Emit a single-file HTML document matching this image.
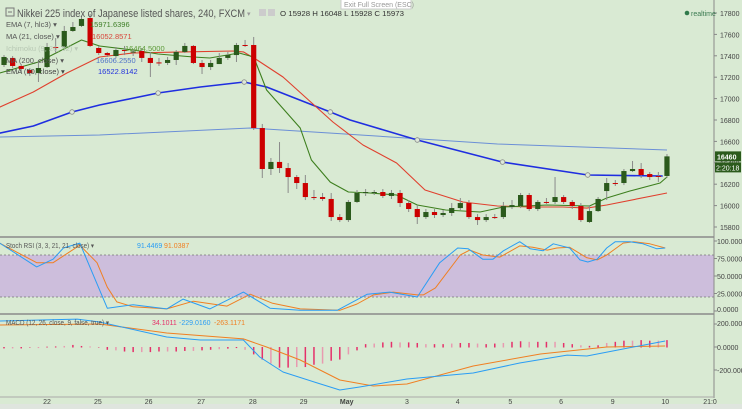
<!DOCTYPE html>
<html><head><meta charset="utf-8"><style>
html,body{margin:0;padding:0;background:#d9ead3;}
svg{display:block;font-family:"Liberation Sans",sans-serif;}
</style></head><body>
<svg id="chart" width="742" height="409" viewBox="0 0 742 409" xmlns="http://www.w3.org/2000/svg">
<rect x="0" y="0" width="742" height="409" fill="#d9ead3"/>
<rect x="0" y="404" width="742" height="5" fill="#dfe5de"/>
<g id="stoch-band"></g>
<g id="grid">
<line x1="0" y1="237" x2="714" y2="237" stroke="#8a8a8a" stroke-width="1.5"/>
<line x1="0" y1="314" x2="714" y2="314" stroke="#8a8a8a" stroke-width="1.5"/>
<line x1="714" y1="0" x2="714" y2="398" stroke="#8a8a8a" stroke-width="1"/>
<line x1="0" y1="397" x2="714" y2="397" stroke="#aaa" stroke-width="1"/>
</g>
<g id="lines"></g>
<g id="candles"></g>
<g id="axes"></g>
<g fill="#555">
<rect x="6" y="8" width="8" height="8" fill="none" stroke="#777"/>
<line x1="8" y1="12" x2="12" y2="12" stroke="#777"/>
<text x="17" y="17" font-size="11" textLength="228" lengthAdjust="spacingAndGlyphs">Nikkei 225 index of Japanese listed shares, 240, FXCM</text>
<text x="247" y="16" font-size="7" fill="#999">▾</text>
<rect x="259" y="9" width="7" height="7" fill="#ccc"/>
<rect x="268" y="9" width="7" height="7" fill="#ccc"/>
<text x="280" y="16" font-size="7.5" fill="#333" textLength="124" lengthAdjust="spacingAndGlyphs">O 15928  H 16048  L 15928  C 15973</text>
</g>
<g>
<rect x="341" y="-1" width="70" height="10" fill="#fff" stroke="#ccc"/>
<text x="344" y="7" font-size="7" fill="#999">Exit Full Screen (ESC)</text>
</g>
<g>
<circle cx="687" cy="13" r="2.3" fill="#2f7a4a"/>
<text x="691" y="16" font-size="7" fill="#3a7a50">realtime</text>
</g>
<g font-size="7.5">
<text x="6" y="27" fill="#555">EMA (7, hlc3) ▾</text>
<text x="90" y="27" fill="#3f7f28">15971.6396</text>
<text x="6" y="39" fill="#555">MA (21, close) ▾</text>
<text x="92" y="39" fill="#d8453a">16052.8571</text>
<text x="6" y="51" fill="#b8c8b4">Ichimoku (9, 26, 52) ▾</text>
<text x="125" y="51" fill="#5d9a38">16464.5000</text>
<text x="6" y="63" fill="#555">MA (200, close) ▾</text>
<text x="96" y="63" fill="#4f72c8">16606.2550</text>
<text x="6" y="74" fill="#444">EMA (50, close) ▾</text>
<text x="98" y="74" fill="#2233dd">16522.8142</text>
<text x="6" y="248" fill="#555" font-size="7" textLength="88" lengthAdjust="spacingAndGlyphs">Stoch RSI (3, 3, 21, 21, close) ▾</text>
<text x="137" y="248" fill="#2a9df4" font-size="7">91.4469</text>
<text x="164" y="248" fill="#f07f22" font-size="7">91.0387</text>
<text x="6" y="325" fill="#555" font-size="7" textLength="103" lengthAdjust="spacingAndGlyphs">MACD (12, 26, close, 9, false, true) ▾</text>
<text x="152" y="325" fill="#e5306a" font-size="7">34.1011</text>
<text x="179" y="325" fill="#2a9df4" font-size="7">-229.0160</text>
<text x="214" y="325" fill="#f07f22" font-size="7">-263.1171</text>
</g>
</svg>
<script>
// ===== Data =====
const opens=[17314,17380,17305,17267,17239,17295,17482,17482,17632,17679,17753,17473,17426,17398,17454,17436,17445,17380,17338,17333,17361,17436,17492,17333,17295,17323,17380,17407,17501,17501,16725,16342,16408,16351,16267,16211,16080,16080,16062,15893,15865,16034,16118,16118,16127,16090,16118,16024,15968,15893,15940,15912,15931,15977,16024,15893,15865,15893,15893,15987,15996,16099,15968,16034,16034,16080,16034,15996,15847,15949,16136,16211,16211,16323,16342,16295,16277,16277];
const closes=[17389,17305,17277,17239,17286,17482,17478,17632,17669,17744,17492,17426,17407,17454,17450,17440,17380,17333,17333,17361,17436,17492,17333,17295,17333,17380,17407,17501,17496,16725,16342,16408,16351,16267,16211,16080,16076,16062,15893,15865,16034,16118,16127,16127,16090,16118,16024,15968,15893,15940,15912,15931,15977,16024,15893,15865,15893,15889,15996,16005,16099,15968,16034,16030,16080,16034,15996,15865,15949,16062,16211,16207,16323,16342,16286,16267,16272,16460];
const highs=[17407,17398,17323,17286,17361,17520,17566,17679,17716,17772,17791,17492,17436,17482,17492,17464,17473,17436,17380,17389,17454,17520,17501,17361,17361,17426,17436,17520,17548,17576,16763,16445,16594,16398,16286,16286,16146,16118,16118,15921,16052,16146,16155,16146,16155,16146,16146,16052,16005,15968,15968,15959,16024,16071,16052,15921,15921,15921,16034,16052,16118,16118,16052,16071,16267,16099,16052,16024,16005,16080,16258,16239,16342,16417,16398,16314,16314,16482];
const lows=[17295,17286,17249,17211,17155,17286,17426,17473,17623,17669,17482,17407,17389,17380,17407,17398,17342,17202,17305,17314,17314,17426,17323,17230,17267,17323,17361,17342,17482,16707,16258,16286,16305,16118,16155,16052,16052,16043,15856,15847,15847,16024,16090,16099,16071,16062,15987,15940,15828,15875,15884,15893,15903,15959,15875,15819,15847,15875,15875,15968,15977,15949,15949,16015,16015,16015,15968,15847,15838,15940,16052,16183,16192,16314,16258,16239,16221,16258];

const ema7Idx=[-0.5,4,9,11.1,15,17.9,22,23.9,27.3,29,30.5,34.4,35.7,37.9,40,42.5,45.6,48,51.3,55.3,58,63.1,68,70,72.7,76.2,77];
const ema7Val=[17239,17342,17548,17492,17454,17417,17389,17379,17426,17389,17080,16725,16426,16220,16127,16118,16099,16006,15959,15940,15987,16006,15996,16071,16136,16211,16267];
const ma21Idx=[-0.5,3.4,7.3,11.1,15,20.8,26.6,27.8,29.4,32.4,38.2,41.7,45.6,48.9,53.3,57.3,61.1,64.9,67.7,70,77];
const ma21Val=[16921,17062,17239,17389,17426,17436,17445,17436,17361,17202,16781,16566,16398,16146,16034,15996,15987,15987,15977,16006,16118];
const ema50Idx=[-0.5,3.4,7.9,11.1,17.9,22.8,27.9,30.5,37.9,40.2,48,57.9,67.8,76.5];
const ema50Val=[16678,16744,16875,16940,17052,17108,17155,17108,16875,16800,16613,16407,16286,16277];
const ema50Markers=[7.9,17.9,27.9,37.9,48,57.9,67.8];
const ma200Idx=[-0.5,11.1,28.6,38,57.3,77];
const ma200Val=[16641,16660,16725,16678,16576,16520];

const stochKIdx=[-0.5,3.8,5.7,6.9,8.8,12,15,18.9,20.8,23.9,27.8,30.9,34.4,38.7,39,42.2,44.8,48,50.6,52.7,53.9,55.6,56.8,58,59.9,61.1,62.6,63.8,65.7,66.9,67.8,68.9,70,71,72.7,74.2,75.8,76.8];
const stochK=[97,63,74,90,97,4,9,3,17,3,27,4,1,1,3,24,27,20,69,90,89,74,74,86,99,89,86,96,90,73,70,74,90,99,99,96,89,90];
const stochDIdx=[-0.5,3.8,5.7,8.8,10.8,12,13.1,15,18.9,22,25.9,28.6,31.2,34.4,39,41,42.9,45.2,48,48.7,50.1,53,54.1,55.6,57.6,59.9,61.4,63.1,64.2,65.7,67.7,68.9,70,71.9,73.1,75,76.8];
const stochD=[97,69,69,94,69,34,13,6,3,14,7,24,11,3,1,10,23,27,23,23,33,80,87,80,77,93,91,87,90,91,76,73,80,97,99,96,90];

const macdIdx=[-0.5,8.5,11.1,18.9,22.8,27.8,29.7,32.4,36.4,39,41.3,46.8,54.5,59.9,65.4,67.7,71.9,76.8];
const macdVal=[226,243,217,87,61,61,-87,-217,-313,-374,-348,-278,-226,-139,-70,-78,-17,52];
const signalIdx=[-0.5,11.1,18.9,27.8,30.5,34.4,36.7,39,42.9,46.8,54.5,62.3,70,76.8];
const signalVal=[191,200,122,70,0,-113,-200,-287,-339,-322,-165,-61,0,9];
const histVal=[-8,-8,-8,0,-5,3,5,9,18,9,5,0,-20,-25,-35,-40,-40,-40,-35,-35,-35,-30,-30,-25,-20,-15,-10,-5,-20,-60,-105,-140,-175,-175,-170,-170,-150,-140,-115,-105,-60,-25,25,30,40,45,40,40,35,25,25,25,30,35,35,30,25,30,35,45,50,45,45,45,45,35,25,15,10,15,35,45,55,55,60,55,55,60];

const priceTicks=[17800,17600,17400,17200,17000,16800,16600,16400,16200,16000,15800];
const stochTicks=[100,75,50,25,0];
const stochTickLabels=["100.0000","75.0000","50.0000","25.0000","0.0000"];
const macdTicks=[200,0,-200];
const macdTickLabels=["200.0000","0.0000","-200.0000"];
const dayIdx=[5,10.9,16.8,22.9,28.9,34.8,39.8,46.8,52.7,58.8,64.7,70.7,76.8,82];
const dayLabels=["22","25","26","27","28","29","May","3","4","5","6","9","10","21:0"];

// ===== Axis functions =====
const X=i=>4+8.61*i;
const PY=p=>13+(17800-p)*0.107;
const SY=v=>311-v*0.7;
const MY=v=>347-v*0.115;
const NS="http://www.w3.org/2000/svg";
function mk(tag,attrs,parent){const e=document.createElementNS(NS,tag);for(const k in attrs)e.setAttribute(k,attrs[k]);parent.appendChild(e);return e;}

const band=document.getElementById('stoch-band');
const bandRect=mk('rect',{x:0,y:SY(80),width:714,height:SY(20)-SY(80),fill:'#cdbedc'},band);


[80,20].forEach(v=>{const l=mk('line',{x1:0,x2:714,y1:SY(v),y2:SY(v),stroke:'#777','stroke-dasharray':'2,2','stroke-width':0.8},band);

});

const lines=document.getElementById('lines');
function poly(idx,vals,fy,color,w,name){
  const pts=idx.map((i,k)=>X(i).toFixed(1)+','+fy(vals[k]).toFixed(1)).join(' ');
  const p=mk('polyline',{points:pts,fill:'none',stroke:color,'stroke-width':w,'stroke-linejoin':'round'},lines);
  
  
  return p;
}
function interp(idx,vals,t){for(let k=0;k<idx.length-1;k++){if(t>=idx[k]&&t<=idx[k+1]){const f=(t-idx[k])/(idx[k+1]-idx[k]);return vals[k]+f*(vals[k+1]-vals[k]);}}return vals[vals.length-1];}

poly(ma200Idx,ma200Val,PY,'#6b8fd6',1,'ma200-line');
poly(ema50Idx,ema50Val,PY,'#1f2ee0',1.6,'ema50-line');
poly(ma21Idx,ma21Val,PY,'#e0402e',1.1,'ma21-line');
poly(ema7Idx,ema7Val,PY,'#3d7f1e',1.1,'ema7-line');
ema50Markers.forEach(t=>{const c=mk('circle',{cx:X(t),cy:PY(interp(ema50Idx,ema50Val,t)),r:2.3,fill:'#dde8da',stroke:'#888','stroke-width':0.8},lines);

});

poly(stochDIdx,stochD,SY,'#f07f22',1,'stoch-d-line');
poly(stochKIdx,stochK,SY,'#2a9df4',1,'stoch-k-line');

histVal.forEach((v,i)=>{const y0=MY(0),y1=MY(v);const l=mk('line',{x1:X(i),x2:X(i),y1:Math.min(y0,y1),y2:Math.max(y0,y1)+0.5,stroke:(i%3==1?'#e89ab0':'#e5306a'),'stroke-width':1.5},lines);

});
poly(signalIdx,signalVal,MY,'#f07f22',1,'macd-signal-line');
poly(macdIdx,macdVal,MY,'#2a9df4',1,'macd-line');

const cg=document.getElementById('candles');
opens.forEach((o,i)=>{
  const c=closes[i],x=X(i),up=c>=o;
  const w=mk('line',{x1:x,x2:x,y1:PY(highs[i]),y2:PY(lows[i]),stroke:'#8a8a8a','stroke-width':1},cg);
  
  
  const top=PY(Math.max(o,c)),bot=PY(Math.min(o,c));
  const b=mk('rect',{x:x-2.6,y:top,width:5.2,height:Math.max(1,bot-top),fill:up?'#2b5a1c':'#cc0000'},cg);
  
  
});

const ax=document.getElementById('axes');
function tick(x,y,ty,txt,name){
  mk('line',{x1:714,x2:717,y1:y,y2:y,stroke:'#888'},ax);
  const t=mk('text',{x:x,y:ty+3,'font-size':7,fill:'#444'},ax);
  t.textContent=txt;
  
  
}
priceTicks.forEach(p=>tick(720,PY(p),PY(p),String(p),'price-tick-label'));
stochTicks.forEach((v,k)=>tick(717,SY(v),v===0?SY(v)-2:SY(v),stochTickLabels[k],'stoch-tick-label'));
macdTicks.forEach((v,k)=>tick(717,MY(v),v===200?323:MY(v),macdTickLabels[k],'macd-tick-label'));
dayIdx.forEach((d,k)=>{const t=mk('text',{x:X(d),y:404,'font-size':7,fill:'#444','text-anchor':'middle','font-weight':dayLabels[k]==='May'?'bold':'normal'},ax);
t.textContent=dayLabels[k];

});

const last=closes[closes.length-1];
const ly=PY(last);
const tag=mk('rect',{x:715,y:ly-5,width:26,height:10,fill:'#2b5a1c'},ax);


const tt=mk('text',{x:717,y:ly+3,'font-size':7,fill:'#fff','font-weight':'bold'},ax);
tt.textContent=String(last);


const tag2=mk('rect',{x:715,y:ly+6,width:26,height:10,fill:'#2b5a1c'},ax);


const tt2=mk('text',{x:716,y:ly+14,'font-size':7,fill:'#fff'},ax);
tt2.textContent='2:20:18';


</script>
</body></html>
